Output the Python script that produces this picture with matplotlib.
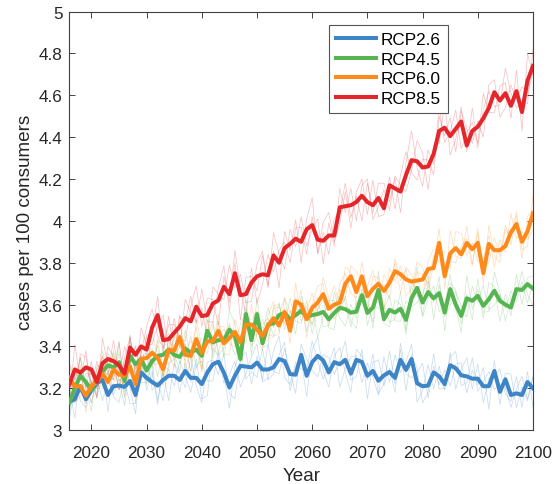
import matplotlib

matplotlib.use("Agg")

import matplotlib.pyplot as plt
import numpy as np
from matplotlib.ticker import FuncFormatter

plt.rcParams["font.family"] = ["Liberation Sans", "DejaVu Sans"]

years = np.arange(2016, 2101)

# ensemble means (thick lines)
rcp26 = [3.135, 3.148, 3.21, 3.148, 3.19, 3.225, 3.24, 3.168, 3.21, 3.213,
         3.207, 3.235, 3.168, 3.276, 3.25, 3.23, 3.213, 3.24, 3.26, 3.26,
         3.24, 3.283, 3.25, 3.25, 3.22, 3.275, 3.315, 3.327, 3.275, 3.204,
         3.26, 3.307, 3.304, 3.30, 3.323, 3.29, 3.29, 3.30, 3.34, 3.33,
         3.268, 3.265, 3.36, 3.26, 3.325, 3.355, 3.333, 3.276, 3.325, 3.315,
         3.336, 3.27, 3.336, 3.326, 3.26, 3.283, 3.236, 3.262, 3.278, 3.25,
         3.336, 3.288, 3.34, 3.224, 3.21, 3.213, 3.276, 3.257, 3.22, 3.31,
         3.296, 3.262, 3.257, 3.246, 3.246, 3.21, 3.21, 3.283, 3.183, 3.243,
         3.168, 3.176, 3.168, 3.23, 3.20]
rcp45 = [3.13, 3.20, 3.26, 3.23, 3.19, 3.25, 3.28, 3.31, 3.30, 3.325,
         3.235, 3.355, 3.315, 3.34, 3.285, 3.33, 3.355, 3.36, 3.385, 3.36,
         3.35, 3.39, 3.37, 3.385, 3.355, 3.475, 3.42, 3.43, 3.43, 3.48,
         3.45, 3.34, 3.555, 3.43, 3.555, 3.415, 3.505, 3.51, 3.55, 3.56,
         3.53, 3.55, 3.57, 3.54, 3.55, 3.555, 3.565, 3.53, 3.56, 3.585,
         3.578, 3.562, 3.566, 3.645, 3.56, 3.586, 3.67, 3.53, 3.575, 3.562,
         3.58, 3.527, 3.63, 3.68, 3.61, 3.66, 3.63, 3.655, 3.562, 3.674,
         3.60, 3.546, 3.63, 3.618, 3.642, 3.594, 3.626, 3.666, 3.618, 3.60,
         3.586, 3.674, 3.67, 3.698, 3.677]
rcp60 = [3.25, 3.21, 3.21, 3.165, 3.21, 3.23, 3.27, 3.23, 3.29, 3.265,
         3.26, 3.305, 3.22, 3.34, 3.345, 3.37, 3.345, 3.29, 3.385, 3.38,
         3.445, 3.36, 3.355, 3.435, 3.37, 3.425, 3.425, 3.475, 3.415, 3.44,
         3.47, 3.42, 3.505, 3.505, 3.48, 3.45, 3.50, 3.535, 3.50, 3.565,
         3.475, 3.615, 3.60, 3.53, 3.585, 3.61, 3.65, 3.58, 3.60, 3.61,
         3.70, 3.735, 3.66, 3.735, 3.64, 3.675, 3.70, 3.665, 3.705, 3.76,
         3.745, 3.72, 3.71, 3.715, 3.72, 3.77, 3.775, 3.895, 3.735, 3.845,
         3.87, 3.84, 3.895, 3.865, 3.895, 3.75, 3.89, 3.86, 3.86, 3.88,
         3.945, 3.985, 3.90, 3.95, 4.035]
rcp85 = [3.22, 3.29, 3.275, 3.30, 3.29, 3.23, 3.32, 3.34, 3.33, 3.31,
         3.27, 3.395, 3.36, 3.40, 3.385, 3.49, 3.55, 3.43, 3.435, 3.465,
         3.495, 3.535, 3.52, 3.59, 3.545, 3.55, 3.605, 3.62, 3.685, 3.65,
         3.75, 3.645, 3.65, 3.705, 3.735, 3.745, 3.74, 3.835, 3.80, 3.87,
         3.89, 3.915, 3.90, 3.96, 3.98, 3.91, 3.905, 3.93, 3.93, 4.065,
         4.07, 4.075, 4.09, 4.12, 4.09, 4.075, 4.11, 4.06, 4.17, 4.155,
         4.14, 4.22, 4.29, 4.285, 4.255, 4.26, 4.32, 4.43, 4.445, 4.405,
         4.44, 4.475, 4.36, 4.43, 4.45, 4.49, 4.54, 4.615, 4.575, 4.61,
         4.55, 4.62, 4.52, 4.67, 4.74]

# spread of individual model runs around the mean, in hundredths
rcp26_dev = [
    [-8, 5, -3, 9, -6, 2, -10, 7, -4, 3, -9, 6, 11, -5, -2, 8, -7, 4, -12, 6,
     3, -8, 10, -4, -9, 5, 2, -6, 9, -3, -11, 4, 7, -8, 3, -5, 12, -2, -7, 6,
     1, -9, 5, 8, -4, -10, 3, 7, -6, 2, 9, -3, -8, 6, -11, 4, 10, -5, 2, -7,
     8, -2, -9, 5, 11, -6, 3, -4, 7, -10, 2, 6, -8, 4, -3, 9, -11, 5, -6, 3,
     10, -7, 4, -9, 6],
    [6, -9, 8, -2, 4, -7, 3, 10, -5, -8, 5, -3, -9, 7, 12, -4, 2, -10, 6, 8,
     -6, 4, -2, 9, -7, -11, 8, 3, -5, 6, 7, -10, -3, 5, 9, -6, -4, 8, 11, -8,
     -5, 6, -7, 3, 10, -2, -9, 4, 7, -11, -4, 8, 2, -10, 6, -3, -7, 9, -5, 11,
     -6, 4, 7, -9, -2, 10, -8, 5, -3, 6, -10, 3, 9, -5, 7, -8, 4, -2, 11, -7,
     -3, 8, -6, 5, -9],
    [2, 11, -7, -4, 9, -3, 6, -8, 10, -2, 3, -11, -4, 8, -6, 5, -9, 7, 3, -5,
     9, -2, -7, 6, 11, -4, -8, 5, -1, -10, 4, 8, -6, -2, -7, 10, -5, -3, 2, 9,
     -8, 4, -2, -10, 6, 9, -5, -7, 3, 8, -6, -9, 5, 3, -2, 8, -6, -4, 10, -3,
     5, -10, 2, 7, -8, -3, 9, -6, -2, 4, 8, -5, -3, 10, -6, 2, 7, -9, 4, -4,
     -6, 2, 9, -8, 5],
]
rcp45_dev = [
    [4, -7, 9, -3, -10, 6, 2, -5, 8, -9, 3, 7, -4, -8, 10, -2, 5, -11, 6, 1,
     -7, 9, -3, 4, -6, 11, -8, 2, 5, -4, -9, 6, 3, -7, 8, -2, -10, 7, 4, -5,
     10, -3, -6, 8, -9, 2, 6, -4, -8, 9, 3, -7, 5, -2, 9, -10, 4, 7, -6, -3,
     8, -5, 2, 10, -7, -3, 6, -9, 4, 7, -2, -8, 11, -4, 3, -6, 8, 2, -10, 5,
     -4, 7, -7, 3, 6],
    [-5, 8, -2, 7, 3, -9, 10, -4, -6, 5, -8, -3, 9, 4, -7, 6, -10, 3, 8, -2,
     5, -6, 8, -9, 2, -3, 10, -7, -4, 9, 6, -2, -8, 5, -4, 9, 3, -6, -9, 7,
     -3, 8, 4, -7, 5, -11, -2, 9, 6, -5, -8, 4, -3, 10, -6, 2, -9, 5, 7, -4,
     -6, 9, -4, -7, 3, 8, -10, 4, -2, -8, 6, 5, -9, 7, -3, 10, -5, -7, 3, -2,
     8, -6, 4, -9, 2],
    [9, -2, -6, 4, 8, -4, -7, 6, -2, 10, -5, 9, -6, 2, -3, -8, 7, 5, -4, 9,
     -3, 2, -9, 6, 8, -5, -2, 9, -8, 3, -4, 9, 7, -3, -10, 5, 8, -2, 6, -8,
     4, -9, 7, 2, -5, 8, -7, -3, 10, -2, 6, -4, -8, 3, 5, -7, 9, -2, -8, 6,
     2, -7, 9, -3, -6, 5, -2, 8, -9, 3, 7, -4, 2, -9, 8, -3, -6, 9, 4, -8,
     5, -3, 9, -5, -8],
]
rcp60_dev = [
    [7, -4, 10, -8, 3, -6, 9, -2, -7, 5, -10, 4, 8, -3, -6, 9, 2, -8, 5, -4,
     11, -7, 3, 6, -9, 4, -2, 8, -5, -8, 6, 3, -9, 10, -4, -7, 5, 8, -3, 2,
     -6, 9, -8, 4, 7, -5, -10, 3, 9, -2, -7, 5, 10, -4, -8, 6, 3, -9, 7, -5,
     4, -8, -3, 9, 6, -10, 2, 7, -6, 11, -4, -2, 8, -7, 5, 3, -9, 6, -3, 10,
     -6, 4, -8, 7, 2],
    [-6, 9, -3, 5, -8, 4, -5, 10, 3, -7, 8, -9, -2, 6, 4, -7, 9, -3, -10, 7,
     -2, 5, -8, 9, 3, -6, 8, -10, 4, 6, -5, -8, 4, 2, 9, -3, -7, 6, 10, -6,
     3, -5, 7, -9, 2, 8, 5, -7, -4, 9, 5, -8, -3, 7, 2, -6, -9, 8, -2, 4,
     -9, 6, 3, -5, -8, 4, 9, -3, 6, -7, 8, 10, -6, 3, -9, 7, 4, -8, 5, -3,
     9, -7, 5, -4, -8],
    [2, -8, -5, 9, 6, -3, -7, 4, 8, -2, -4, 7, -9, 3, 10, -5, -3, 7, -2, -8,
     6, 3, 7, -4, -9, 10, -6, 2, 8, -3, -7, 9, 5, -6, -2, 8, -4, -9, 5, 7,
     9, -4, -2, 6, -8, -3, 8, 5, -7, -4, 8, 2, -6, -9, 5, 9, -4, 3, -8, 6,
     -3, 5, -8, 4, 2, -7, 6, -9, 3, -4, -7, 4, 2, -8, 7, -5, 9, -3, -6, 8,
     -2, 6, -4, -7, 9],
]
rcp85_dev = [
    [-9, 12, -4, 8, -11, 6, 3, -7, 10, -5, 13, -8, 4, -12, 7, -3, 9, -6, 11, -10,
     5, -2, 12, -8, 4, -11, 8, 3, -6, 14, -7, 10, -4, -9, 6, 11, -5, 2, -12, 8,
     -3, 9, -10, 5, 13, -7, 4, -9, 8, -2, 11, -6, 3, -12, 9, -4, 7, 12, -8, 5,
     -10, 6, 14, -3, -9, 8, -5, 11, -7, 2, 9, -13, 6, 4, -8, 12, -2, -10, 7, 5,
     -6, 10, -9, 13, -4],
    [10, -5, 7, -10, 4, -8, 12, -3, -9, 11, -4, 6, -11, 9, 2, -8, -5, 12, -6, 7,
     -10, 9, 4, -7, 13, -3, -9, 6, 10, -8, 5, -12, 8, 3, -7, 9, -6, 11, 4, -10,
     7, -4, 12, -8, -2, 10, -11, 6, -5, 9, -3, 8, -9, 5, 11, -7, -4, 9, -12, 6,
     3, -8, -5, 10, 7, -11, 4, -6, 12, -9, -5, 7, -3, 11, -10, 4, 8, -7, -2, 12,
     6, -8, 5, -11, 8],
    [3, -11, 9, 5, -7, 10, -9, 6, 2, -12, 8, 5, -7, -3, 11, 9, -10, -4, 7, 4,
     -6, -11, 7, 10, -5, 8, 2, -12, 5, -4, 11, 3, -10, 7, -13, -5, 10, -8, 6, 3,
     -9, 5, 7, -12, 4, -6, 9, 11, -3, -8, 7, -11, 5, 8, -6, 12, -9, -3, 4, -10,
     8, 11, -6, -9, 4, 3, -10, 7, -4, 9, -11, 5, 8, -6, 3, -9, 11, 6, -8, -7,
     10, -4, 12, -6, -3],
]

labels = ["RCP2.6", "RCP4.5", "RCP6.0", "RCP8.5"]
colors = ["#3d85c6", "#55b550", "#ff8a1a", "#e4262b"]
means = [rcp26, rcp45, rcp60, rcp85]
devs = [rcp26_dev, rcp45_dev, rcp60_dev, rcp85_dev]

fig = plt.figure(figsize=(5.59, 4.85), dpi=100)
ax = fig.add_axes([0.124, 0.111, 0.8295, 0.863])

for mean, dev, color in zip(means, devs, colors):
    for run in dev:
        ax.plot(years, np.array(mean) + np.array(run) / 100.0,
                color=color, lw=0.5, alpha=0.3, zorder=1)

for mean, color, label in zip(means, colors, labels):
    ax.plot(years, mean, color=color, lw=2.9, label=label, zorder=3)

ax.set_xlim(2016, 2100)
ax.set_ylim(3, 5)
ax.set_xticks(np.arange(2020, 2101, 10))
ax.set_yticks(np.arange(3, 5.01, 0.2))
ax.yaxis.set_major_formatter(FuncFormatter(lambda v, _: f"{v:g}"))
ax.tick_params(direction="in", top=True, right=True, length=4, width=0.6,
               colors="#262626", labelsize=12.3, pad=5)
ax.tick_params(axis="x", pad=11)
for spine in ax.spines.values():
    spine.set_color("#404040")
    spine.set_linewidth(0.8)

ax.set_xlabel("Year", fontsize=13.6, color="#262626", labelpad=5)
ax.set_ylabel("cases per 100 consumers", fontsize=13.6, color="#262626", labelpad=3)

leg = ax.legend(loc="upper left", bbox_to_anchor=(0.56, 0.968), fontsize=12.3,
                fancybox=False, framealpha=1, edgecolor="#555555",
                handlelength=2.35, borderpad=0.4, labelspacing=0.28,
                handletextpad=0.3, borderaxespad=0)
leg.get_frame().set_linewidth(0.8)

fig.savefig("out.png", dpi=100)
